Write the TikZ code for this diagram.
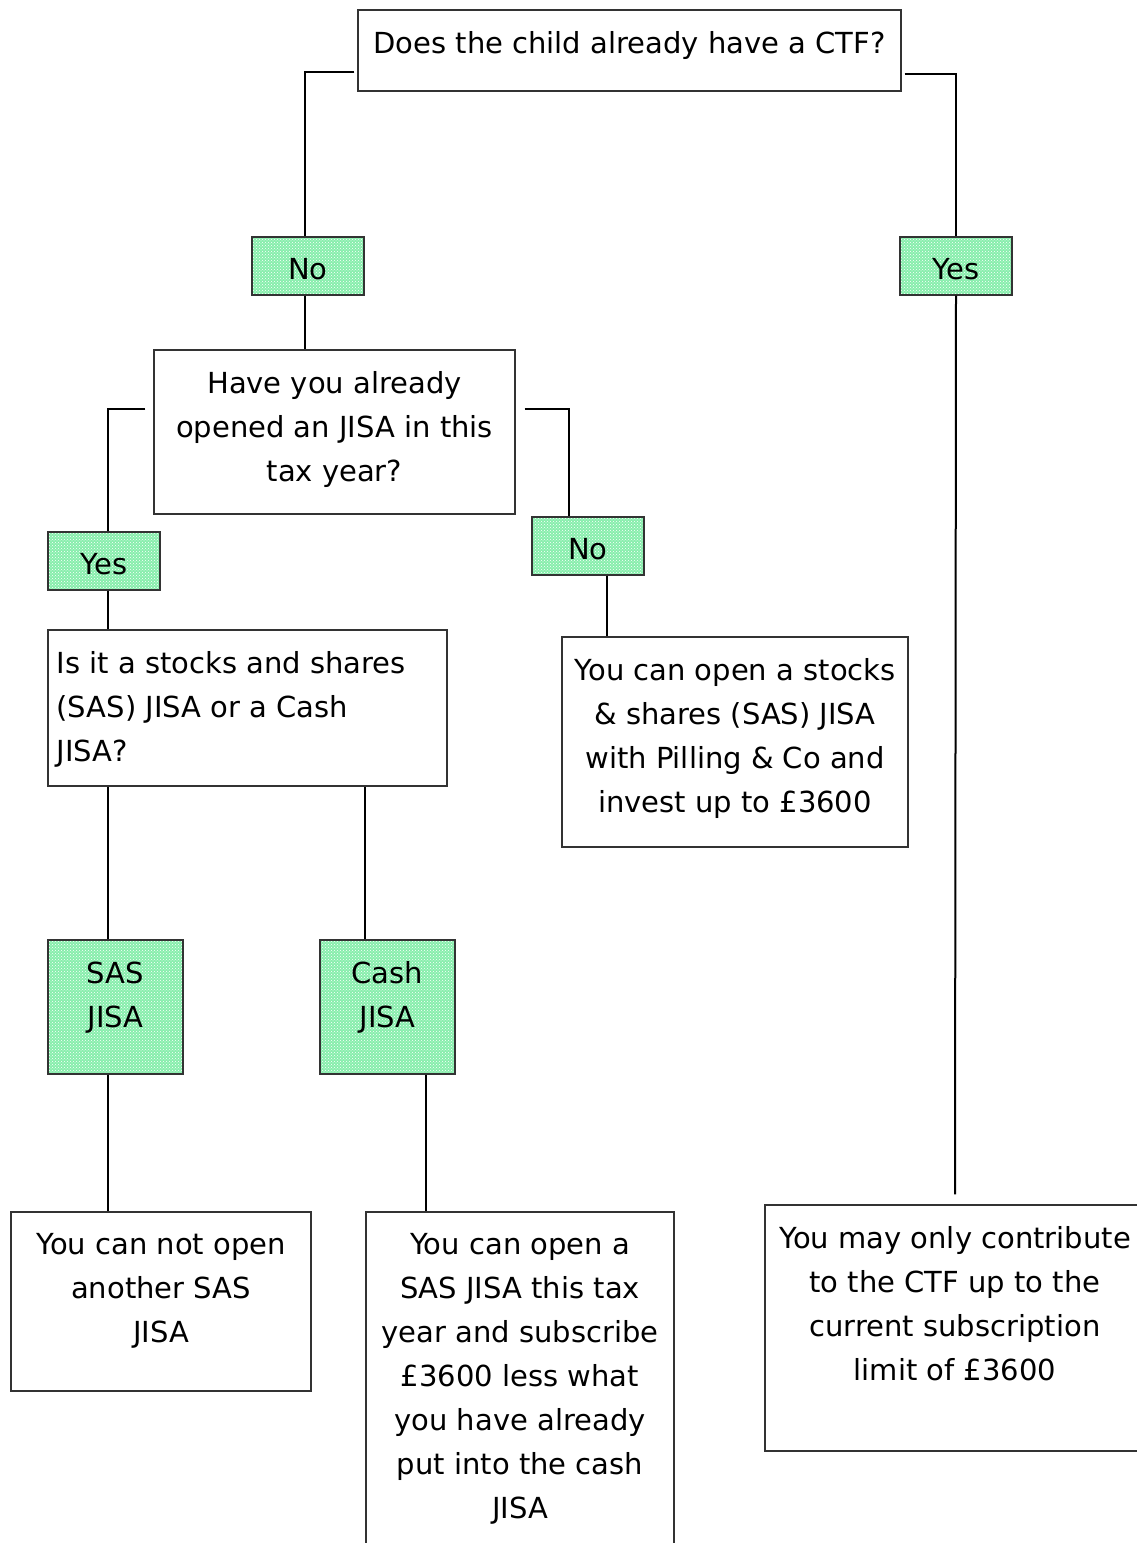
\documentclass[tikz,border=0pt]{standalone}
\usepackage{fontspec}
\setmainfont{DejaVu Sans}
\usepackage{tikz}
\usetikzlibrary{positioning,patterns}
\definecolor{jisagreen}{RGB}{135, 238, 172}
\tikzstyle{box} = [draw=black!80, line width=1.3pt, inner sep=0pt]
\tikzstyle{tag} = [box, preaction={fill=jisagreen}, pattern=crosshatch dots, pattern color=white]
\tikzstyle{words} = [font=\fontsize{29}{44}\selectfont, align=center, inner sep=0pt, anchor=north, yshift=-22pt]
\tikzstyle{tedge} = [draw, line width=2pt]

\begin{document}
\begin{tikzpicture}[x=1pt, y=-1pt]
\useasboundingbox (0,0) rectangle (1137,1543);

% questions and answers =============================
\node[box, minimum width=543, minimum height=81, label={[words]north:{Does the child already have a CTF?}}] (ctf) at (629.5,50.5) {};
\node[tag, minimum width=112, minimum height=58, label={[words]north:{No}}] (no1) at (308,266) {};
\node[tag, minimum width=112, minimum height=58, label={[words]north:{Yes}}] (yes1) at (956,266) {};
\node[box, minimum width=361, minimum height=164, label={[words]north:{Have you already\\opened an JISA in this\\tax year?}}] (have) at (334.5,432) {};
\node[tag, minimum width=112, minimum height=58, label={[words]north:{Yes}}] (yes2) at (104,561) {};
\node[tag, minimum width=112, minimum height=58, label={[words]north:{No}}] (no2) at (588,546) {};
\node[box, minimum width=399, minimum height=156, label={[words, align=left, anchor=north west, xshift=9pt]north west:{Is it a stocks and shares\\(SAS) JISA or a Cash\\JISA?}}] (isit) at (247.5,708) {};
\node[box, minimum width=346, minimum height=210, label={[words]north:{You can open a stocks\\\& shares (SAS) JISA\\with Pilling \& Co and\\invest up to £3600}}] (canopen) at (735,742) {};
\node[tag, minimum width=135, minimum height=134, label={[words]north:{SAS\\JISA}}] (sas) at (115.5,1007) {};
\node[tag, minimum width=135, minimum height=134, label={[words]north:{Cash\\JISA}}] (cash) at (387.5,1007) {};
\node[box, minimum width=300, minimum height=179, label={[words]north:{You can not open\\another SAS\\JISA}}] (cannot) at (161,1301.5) {};
\node[box, minimum width=308, minimum height=348, label={[words]north:{You can open a\\SAS JISA this tax\\year and subscribe\\£3600 less what\\you have already\\put into the cash\\JISA}}] (subscribe) at (520,1386) {};
\node[box, minimum width=380, minimum height=246, label={[words]north:{You may only contribute\\to the CTF up to the\\current subscription\\limit of £3600}}] (limit) at (955,1328) {};

% edges
\path[tedge] ([xshift=-3pt,yshift=-21pt]ctf.west) -| ([xshift=-3pt]no1.north);
\path[tedge] ([xshift=3pt,yshift=-23pt]ctf.east) -| (yes1.north);
\path[tedge] ([xshift=-3pt]no1.south) -- ([xshift=-3pt]no1.south |- have.north);
\path[tedge] ([xshift=-8pt,yshift=23pt]have.west) -| ([xshift=4pt]yes2.north);
\path[tedge] ([xshift=9pt,yshift=23pt]have.east) -| ([xshift=-19pt]no2.north);
\path[tedge] ([xshift=4pt]yes2.south) -- ([xshift=4pt]yes2.south |- isit.north);
\path[tedge] ([xshift=19pt]no2.south) -- ([xshift=19pt]no2.south |- canopen.north);
\path[tedge] ([xshift=-7.5pt]sas.north) -- ([xshift=-7.5pt]sas.north |- isit.south);
\path[tedge] ([xshift=-22.5pt]cash.north) -- ([xshift=-22.5pt]cash.north |- isit.south);
\path[tedge] ([xshift=-7.5pt]sas.south) -- ([xshift=-7.5pt]sas.south |- cannot.north);
\path[tedge] ([xshift=38.5pt]cash.south) -- ([xshift=38.5pt]cash.south |- subscribe.north);
\path[tedge] (yes1.south) -- ([yshift=10pt]limit.north);

\end{tikzpicture}
\end{document}
